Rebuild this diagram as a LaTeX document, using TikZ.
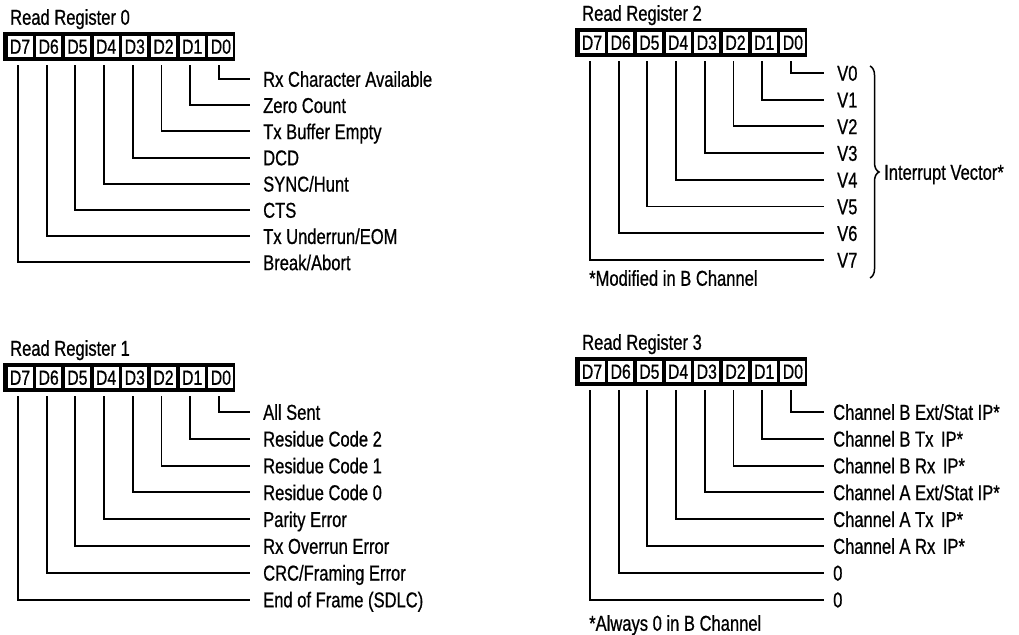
\documentclass[tikz,border=0pt]{standalone}
\usepackage{fontspec}
\setmainfont{Liberation Sans}[FakeStretch=0.77,FakeBold=0.7]
\usetikzlibrary{decorations.pathreplacing}
\tikzset{
  regbox/.style={fill=black, draw=none, minimum width=232pt, minimum height=29pt, inner sep=0pt, anchor=north west},
  cell/.style={fill=white, draw=none, minimum width=25pt, minimum height=21pt, inner sep=0pt,
    text height=14.5pt, text depth=0pt, font=\fontsize{20.5}{20.5}\selectfont},
  regtitle/.style={anchor=west, inner sep=0pt, text height=15.5pt, text depth=0pt, font=\fontsize{21.5}{21.5}\selectfont},
  lbl/.style={anchor=west, inner sep=0pt, text height=15.5pt, text depth=0pt, font=\fontsize{21.5}{21.5}\selectfont},
  conn/.style={line width=1.9pt},
}
% #1 name, #2 box left, #3 box top, #4 title, #5 first row y, #6 row spacing,
% #7 label x, #8 gap line-end to label, #9 labels (D0 first)
\newcommand\regdiag[9]{%
  \node[regbox] (#1box) at (#2,#3) {};
  \node[regtitle] (#1title) at (#2+7,#3-15) {#4};
  \foreach \b in {0,...,7}{
    \pgfmathsetmacro\cx{#2+17+28.7*(7-\b)}
    \node[cell] (#1c\b) at (\cx,#3+14.5) {D\b};
  }
  \foreach \t [count=\i from 0] in {#9}{
    \node[lbl] (#1l\i) at (#7,#5+#6*\i) {\t};
    \draw[conn] ([xshift=-2pt,yshift=-8pt]#1c\i.south) |- ([xshift=-#8pt]#1l\i.west);
  }
}
\begin{document}
\begin{tikzpicture}[x=1pt,y=-1pt]
\useasboundingbox (0,0) rectangle (1019,634);

\regdiag{ra}{3}{32}{Read Register 0}{79}{26.2}{263}{13}{Rx Character Available,Zero Count,Tx Buffer Empty,DCD,SYNC/Hunt,CTS,Tx Underrun/EOM,Break/Abort}

\regdiag{rb}{3}{363}{Read Register 1}{412}{26.8}{263}{13}{All Sent,Residue Code 2,Residue Code 1,Residue Code 0,Parity Error,Rx Overrun Error,CRC/Framing Error,End of Frame (SDLC)}

\regdiag{rc}{575}{28}{Read Register 2}{73}{26.7}{837}{13}{V0,V1,V2,V3,V4,V5,V6,V7}

\regdiag{rd}{575}{357}{Read Register 3}{412}{26.8}{833}{9}{Channel B Ext/Stat IP*,Channel B Tx\hspace{0.35em}IP*,Channel B Rx\hspace{0.35em}IP*,Channel A Ext/Stat IP*,Channel A Tx\hspace{0.35em}IP*,Channel A Rx\hspace{0.35em}IP*,0,0}

% brace and vector label
\coordinate (brtop) at (870,66);
\coordinate (brbot) at (870,278);
\draw[line width=1.5pt, decorate, decoration={brace, amplitude=9pt}] (brtop) -- (brbot);
\node[lbl] (ivec) at (884,172) {Interrupt Vector*};

% footnotes
\node[lbl] (fnc) at (589,278) {*Modified in B Channel};
\node[lbl] (fnd) at (589,623) {*Always 0 in B Channel};
\end{tikzpicture}
\end{document}
